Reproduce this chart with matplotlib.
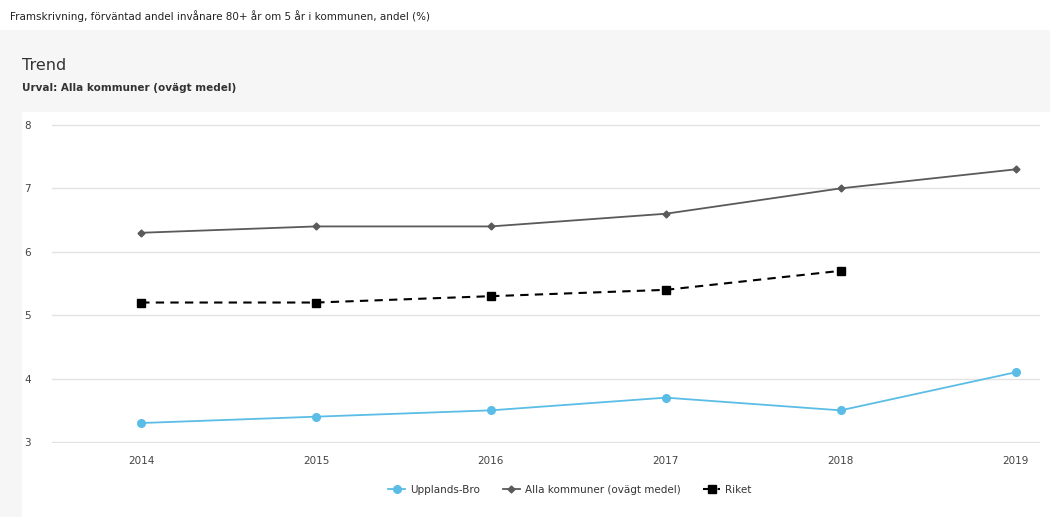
import matplotlib
matplotlib.use("Agg")
import matplotlib.pyplot as plt
from matplotlib.patches import Rectangle
import numpy as np

years = [2014, 2015, 2016, 2017, 2018, 2019]
upplands_bro = [3.3, 3.4, 3.5, 3.7, 3.5, 4.1]
alla_kommuner = [6.3, 6.4, 6.4, 6.6, 7.0, 7.3]
riket = [5.2, 5.2, 5.3, 5.4, 5.7, np.nan]
y_ticks = [3, 4, 5, 6, 7, 8]

plt.rcParams["font.family"] = ["DejaVu Sans"]

fig = plt.figure(figsize=(10.5, 5.17), dpi=100)
fig.patch.set_facecolor("white")

# card background, kept behind the axes
fig.patches.append(Rectangle((0, 0), 1, 1 - 30 / 517, transform=fig.transFigure,
                             facecolor="#f6f6f6", edgecolor="none", zorder=-10))
fig.patches.append(Rectangle((22 / 1050, 0), 1, 1 - 112 / 517, transform=fig.transFigure,
                             facecolor="white", edgecolor="none", zorder=-9))

fig.text(10 / 1050, 1 - 16 / 517, "Framskrivning, förväntad andel invånare 80+ år om 5 år i kommunen, andel (%)",
         fontsize=7.5, color="#222222", va="center")
fig.text(22 / 1050, 1 - 66 / 517, "Trend", fontsize=11.5, color="#333333", va="center")
fig.text(22 / 1050, 1 - 88 / 517, "Urval: Alla kommuner (ovägt medel)", fontsize=7.5,
         color="#333333", va="center", fontweight="bold")

ax = fig.add_axes([52 / 1050, 1 - 443 / 517, (1040 - 52) / 1050, (443 - 124) / 517])
ax.set_facecolor("none")

ax.plot(years, upplands_bro, color="#5bbde6", lw=1.3, marker="o", ms=5.5,
        label="Upplands-Bro", zorder=3)
ax.plot(years, alla_kommuner, color="#5a5a5a", lw=1.3, marker="D", ms=3.5,
        label="Alla kommuner (ovägt medel)", zorder=3)
ax.plot(years, riket, color="black", lw=1.5, ls=(0, (4, 3)), marker="s", ms=6,
        label="Riket", zorder=3)

ax.set_xlim(2013.49, 2019.14)
ax.set_ylim(2.985, 8.015)
ax.set_yticks(y_ticks)
ax.set_xticks(years)
ax.grid(axis="y", color="#e2e2e2", lw=1)
ax.set_axisbelow(True)
for s in ax.spines.values():
    s.set_visible(False)
ax.tick_params(length=0, labelsize=7.5, colors="#444444")
ax.tick_params(axis="x", pad=9)
for lbl in ax.get_yticklabels():
    lbl.set_horizontalalignment("left")
ax.tick_params(axis="y", pad=20)

ax.legend(loc="center", bbox_to_anchor=(570 / 1050, 1 - 490 / 517), bbox_transform=fig.transFigure,
          ncol=3, frameon=False, fontsize=7.5, handlelength=1.6, columnspacing=2.2,
          handletextpad=0.5, labelcolor="#333333")

fig.savefig("out.png", dpi=100, facecolor=fig.get_facecolor())
